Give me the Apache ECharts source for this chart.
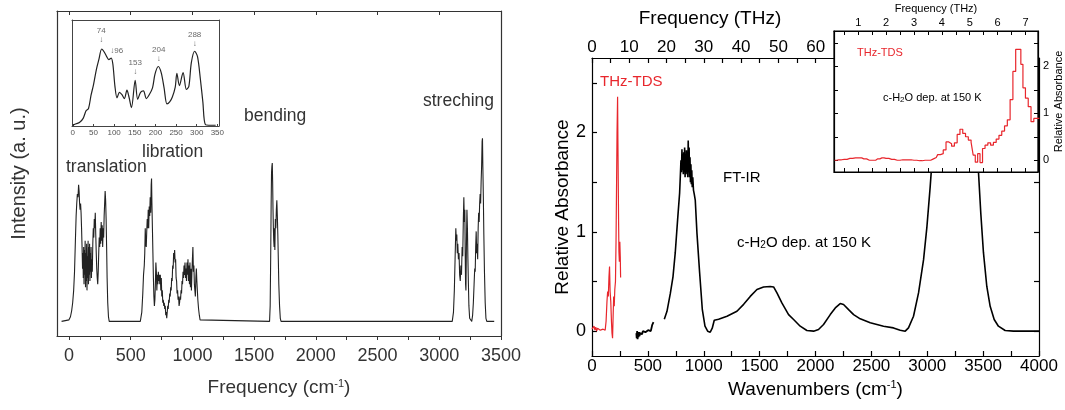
<!DOCTYPE html>
<html>
<head>
<meta charset="utf-8">
<script src="https://cdn.jsdelivr.net/npm/echarts@6/dist/echarts.min.js"></script>
<style>
  html, body { margin: 0; padding: 0; background: #fff; }
  #chart { width: 1065px; height: 410px; }
</style>
</head>
<body>
<div id="chart"></div>
<script>
// ---- left panel: intensity vs frequency (cm-1), arbitrary units
var translationBand = [[-60,0],[0,0.005],[12,0.015],[22,0.035],[30,0.06],[38,0.1],[45,0.16],[52,0.26],[58,0.34],[63,0.38],[68,0.41],[73,0.4],[78,0.44],[82,0.42],[86,0.38],[90,0.36],[94,0.38],[98,0.35],[102,0.3],[106,0.24],[110,0.17],[113,0.22],[116,0.14],[119,0.24],[122,0.12],[125,0.23],[128,0.15],[131,0.26],[134,0.11],[137,0.22],[140,0.13],[143,0.25],[146,0.1],[149,0.21],[152,0.14],[155,0.26],[158,0.12],[161,0.24],[164,0.15],[167,0.25],[170,0.13],[173,0.22],[176,0.16],[179,0.24],[182,0.14],[185,0.2],[189,0.16],[193,0.25],[197,0.3],[201,0.27],[205,0.33],[209,0.3],[213,0.35],[217,0.28],[221,0.22],[225,0.17],[229,0.14],[233,0.12],[237,0.16],[241,0.22],[245,0.27],[249,0.24],[253,0.3],[257,0.25],[261,0.32],[265,0.26],[269,0.31],[273,0.24],[277,0.3],[281,0.27],[285,0.34],[289,0.38],[293,0.42],[297,0.39],[301,0.33],[305,0.24],[309,0.14],[314,0.06],[320,0.015],[326,0]];
var librationBand = [[578,0],[590,0.03],[598,0.09],[604,0.15],[610,0.18],[614,0.22],[618,0.3],[622,0.25],[626,0.24],[630,0.29],[634,0.33],[638,0.3],[642,0.36],[646,0.3],[650,0.37],[654,0.34],[658,0.4],[662,0.35],[666,0.44],[669,0.46],[672,0.38],[676,0.3],[680,0.22],[684,0.14],[688,0.08],[692,0.05],[696,0.07],[700,0.12],[704,0.19],[708,0.16],[712,0.1],[716,0.15],[720,0.12],[724,0.16],[728,0.13],[732,0.15],[736,0.12],[740,0.15],[744,0.1],[748,0.14],[752,0.08],[756,0.1],[760,0.06],[764,0.07],[768,0.05],[772,0.06],[776,0.04],[780,0.05],[784,0.02],[788,0.03],[792,0.01],[796,0.03],[800,0.05],[804,0.04],[808,0.07],[812,0.06],[816,0.09],[820,0.08],[824,0.11],[828,0.1],[832,0.14],[836,0.13],[840,0.18],[844,0.17],[848,0.22],[852,0.2],[856,0.23],[860,0.19],[864,0.2],[868,0.14],[872,0.13],[876,0.09],[880,0.1],[884,0.07],[888,0.08],[892,0.05],[896,0.06],[900,0.08],[904,0.07],[908,0.1],[912,0.09],[916,0.13],[920,0.12],[924,0.16],[928,0.14],[932,0.18],[936,0.15],[940,0.19],[944,0.14],[948,0.17],[952,0.13],[956,0.19],[960,0.15],[964,0.2],[968,0.13],[972,0.18],[976,0.12],[980,0.19],[984,0.11],[988,0.17],[992,0.1],[996,0.16],[1000,0.2],[1004,0.24],[1008,0.16],[1012,0.18],[1016,0.12],[1020,0.1],[1024,0.08],[1028,0.14],[1032,0.17],[1036,0.13],[1040,0.1],[1044,0.07],[1050,0.04],[1056,0.02],[1062,0.005],[1074,0]];
var bendingBand = [[1625,0],[1630,0.05],[1634,0.2],[1638,0.38],[1641,0.48],[1644,0.5],[1647,0.51],[1650,0.45],[1653,0.36],[1656,0.3],[1659,0.26],[1662,0.24],[1665,0.3],[1668,0.23],[1672,0.33],[1676,0.3],[1680,0.36],[1684,0.39],[1688,0.34],[1692,0.28],[1696,0.2],[1700,0.12],[1706,0.05],[1712,0.01],[1718,0]];
var stretchingBand = [[3105,0],[3115,0.03],[3122,0.1],[3128,0.2],[3134,0.3],[3138,0.26],[3142,0.28],[3146,0.22],[3150,0.25],[3155,0.2],[3160,0.22],[3165,0.15],[3170,0.13],[3175,0.18],[3180,0.15],[3185,0.24],[3190,0.21],[3195,0.33],[3199,0.4],[3203,0.32],[3207,0.36],[3210,0.22],[3213,0.12],[3216,0.1],[3220,0.25],[3224,0.36],[3228,0.3],[3232,0.2],[3236,0.12],[3240,0.05],[3246,0.01],[3255,0.005],[3263,0],[3270,0.02],[3276,0.06],[3282,0.12],[3287,0.17],[3291,0.16],[3295,0.24],[3299,0.29],[3303,0.22],[3307,0.25],[3311,0.2],[3315,0.3],[3319,0.35],[3323,0.32],[3327,0.38],[3331,0.41],[3335,0.38],[3339,0.45],[3343,0.5],[3347,0.58],[3350,0.59],[3353,0.5],[3357,0.4],[3361,0.28],[3366,0.16],[3372,0.06],[3378,0.01],[3385,0],[3445,0]];
var leftTickLabels = [0, 500, 1000, 1500, 2000, 2500, 3000, 3500];
var leftTicks = [0, 250, 500, 750, 1000, 1250, 1500, 1750, 2000, 2250, 2500, 2750, 3000, 3250, 3500];

// left inset: 0-350 cm-1 zoom
var insetLeftCurve = [[0,0],[8,0.02],[16,0.035],[25,0.09],[32,0.19],[38,0.22],[44,0.39],[50,0.53],[57,0.73],[63,0.86],[70,1.0],[76,0.96],[82,0.9],[87,0.86],[93,0.88],[97,0.8],[102,0.51],[107,0.36],[113,0.43],[119,0.4],[125,0.35],[131,0.46],[136,0.37],[142,0.23],[151,0.59],[157,0.34],[164,0.43],[171,0.45],[178,0.35],[185,0.4],[193,0.49],[199,0.67],[207,0.77],[214,0.69],[221,0.49],[228,0.28],[235,0.31],[241,0.37],[248,0.5],[252,0.68],[258,0.52],[267,0.69],[275,0.47],[281,0.51],[287,0.82],[295,0.97],[302,0.9],[309,0.6],[315,0.3],[321,0.01],[334,0],[346,0]];
var peakNames = ['74', '96', '153', '204', '288'];
var peakX = [69, 92, 151, 208, 295];
var peakY = [1.05, 0.94, 0.63, 0.81, 1.0];
var insetLeftTicks = [0, 50, 100, 150, 200, 250, 300, 350];

// ---- right panel: relative absorbance vs wavenumber (cm-1)
var thzTds = [[0,0.02],[10,0.0],[18,0.05],[26,0.01],[34,0.04],[42,0.0],[50,0.03],[58,0.02],[66,0.05],[74,0.01],[82,0.03],[90,0.0],[100,0.02],[110,0.0],[118,0.01],[126,0.1],[134,0.3],[140,0.4],[146,0.35],[152,0.55],[157,0.65],[162,0.4],[168,0.3],[174,0.1],[179,-0.02],[184,-0.07],[189,0.15],[194,0.35],[199,0.25],[204,0.42],[210,0.5],[215,0.9],[220,1.5],[224,2.0],[229,2.36],[232,1.9],[235,1.5],[238,1.1],[241,0.8],[245,0.7],[249,0.9],[253,0.75],[256,0.54]];
var ftirShort = [[397,-0.02],[400,-0.07],[404,0.0],[408,-0.08],[412,-0.02],[416,-0.06],[420,-0.01],[425,-0.05],[430,-0.02],[436,-0.04],[442,0.0],[448,-0.03],[455,0.0],[462,-0.02],[470,0.01],[478,-0.01],[486,0.0],[494,-0.01],[502,0.01],[510,0.0],[518,0.02],[526,0.0],[532,0.03],[538,0.06],[544,0.04],[550,0.09]];
var ftirMain = [[647,0.12],[671,0.2],[701,0.38],[725,0.55],[745,0.79],[766,1.12],[784,1.39],[790,1.55],[796,1.72],[800,1.6],[805,1.83],[809,1.62],[813,1.78],[817,1.58],[821,1.8],[825,1.6],[829,1.85],[833,1.55],[837,1.78],[841,1.58],[845,1.82],[849,1.6],[853,1.8],[857,1.55],[861,1.92],[865,1.6],[869,1.85],[873,1.55],[877,1.75],[881,1.5],[885,1.68],[889,1.48],[893,1.62],[897,1.45],[902,1.55],[908,1.42],[915,1.38],[924,1.32],[939,0.99],[963,0.59],[987,0.22],[1011,0.05],[1035,0.0],[1058,-0.01],[1076,0.03],[1094,0.11],[1133,0.12],[1208,0.15],[1297,0.2],[1357,0.27],[1416,0.35],[1476,0.42],[1535,0.445],[1595,0.45],[1625,0.445],[1655,0.385],[1699,0.284],[1759,0.167],[1804,0.117],[1863,0.05],[1923,0.007],[1983,0.0],[2027,0.017],[2072,0.067],[2132,0.167],[2177,0.234],[2221,0.278],[2251,0.268],[2296,0.217],[2341,0.167],[2400,0.124],[2490,0.084],[2609,0.05],[2698,0.033],[2758,0.01],[2803,0.0],[2832,0.033],[2877,0.15],[2922,0.385],[2967,0.72],[2997,1.05],[3026,1.45],[3056,1.92],[3085,2.5],[3120,3.0],[3400,3.0],[3440,2.2],[3459,1.59],[3479,1.19],[3503,0.79],[3533,0.45],[3563,0.25],[3599,0.117],[3637,0.05],[3697,0.007],[3771,0.0],[4000,0.0]];
var wnTickLabels = [0, 500, 1000, 1500, 2000, 2500, 3000, 3500, 4000];
var wnTicks = [0, 250, 500, 750, 1000, 1250, 1500, 1750, 2000, 2250, 2500, 2750, 3000, 3250, 3500, 3750, 4000];
var thzTickLabels = [0, 10, 20, 30, 40, 50, 60];
var thzTicks = [0, 5, 10, 15, 20, 25, 30, 35, 40, 45, 50, 55, 60, 65];
var absTickLabels = [0, 1, 2];
var absTicks = [0, 0.5, 1, 1.5, 2, 2.5];

// right inset: THz-TDS, frequency in THz
var insetThz = [[0.15,0.0],[0.3,0.01],[0.5,0.02],[0.7,0.04],[0.9,0.05],[1.05,0.05],[1.2,0.03],[1.4,0.0],[1.55,0.0],[1.7,0.03],[1.85,0.05],[2.0,0.04],[2.2,0.02],[2.4,0.0],[2.6,0.01],[2.8,0.01],[3.0,0.0],[3.2,-0.01],[3.4,0.0],[3.6,0.0],[3.7,0.03],[3.8,0.06],[3.9,0.12],[4.0,0.14],[4.1,0.22],[4.2,0.39],[4.3,0.35],[4.4,0.3],[4.5,0.37],[4.6,0.55],[4.7,0.66],[4.8,0.57],[4.9,0.5],[5.0,0.43],[5.1,0.38],[5.15,0.11],[5.25,-0.04],[5.32,0.14],[5.42,-0.05],[5.5,0.25],[5.6,0.32],[5.7,0.37],[5.8,0.32],[5.9,0.38],[6.0,0.45],[6.1,0.53],[6.2,0.62],[6.3,0.73],[6.4,0.86],[6.5,1.29],[6.6,1.89],[6.7,2.36],[6.8,2.36],[6.87,2.04],[6.95,1.54],[7.05,1.32],[7.15,1.14],[7.25,0.82],[7.35,0.89],[7.5,0.89]];
var insetThzLabels = [1, 2, 3, 4, 5, 6, 7];
var insetThzTicks = [0.5, 1, 1.5, 2, 2.5, 3, 3.5, 4, 4.5, 5, 5.5, 6, 6.5, 7];

var FONT = 'Liberation Sans, Arial, sans-serif';
var RED = '#e8262c';
var GRAYTXT = '#333';

var chart = echarts.init(document.getElementById('chart'), null, { renderer: 'canvas' });

// plain numbers, no thousands separator
function num(v) { return String(v); }

function plainAxis(extra) {
  var base = {
    type: 'value',
    axisLine: { show: true, onZero: false, lineStyle: { color: '#000', width: 1.2 } },
    axisTick: { show: false },
    axisLabel: { show: false },
    splitLine: { show: false }
  };
  return Object.assign(base, extra);
}

var option = {
  animation: false,
  backgroundColor: '#fff',
  textStyle: { fontFamily: FONT },
  grid: [
    { left: 57, top: 11, width: 444, height: 325 },
    { left: 72, top: 20, width: 147, height: 106 },
    { left: 592, top: 58, width: 447, height: 298 },
    { left: 834, top: 31, width: 205, height: 141, show: true, backgroundColor: '#fff', borderColor: '#000', borderWidth: 1.2, z: 10 }
  ],
  xAxis: [
    plainAxis({ gridIndex: 0, position: 'bottom', min: -97, max: 3500,
      axisLine: { show: true, onZero: false, lineStyle: { color: '#333', width: 1.2 } },
      axisTick: { show: true, inside: false, length: 4, customValues: leftTicks, lineStyle: { color: '#333' } },
      axisLabel: { show: true, customValues: leftTickLabels, formatter: num, fontSize: 18, color: GRAYTXT, margin: 11, fontFamily: FONT },
      name: 'Frequency (cm{sup|-1})', nameLocation: 'middle', nameGap: 42,
      nameTextStyle: { fontSize: 19, color: GRAYTXT, fontFamily: FONT, rich: { sup: { fontSize: 11, verticalAlign: 'top', color: GRAYTXT } } }
    }),
    plainAxis({ gridIndex: 0, position: 'top', min: -97, max: 3500,
      axisLine: { show: true, onZero: false, lineStyle: { color: '#333', width: 1.2 } },
      axisTick: { show: true, inside: true, length: 4, customValues: leftTickLabels, lineStyle: { color: '#333' } }
    }),
    plainAxis({ gridIndex: 1, position: 'bottom', min: -2, max: 354,
      axisLine: { show: true, onZero: false, lineStyle: { color: '#444', width: 1 } },
      axisTick: { show: true, inside: true, length: 2, customValues: insetLeftTicks, lineStyle: { color: '#444' } },
      axisLabel: { show: true, customValues: insetLeftTicks, formatter: num, fontSize: 8, color: '#555', margin: 3, fontFamily: FONT }
    }),
    plainAxis({ gridIndex: 1, position: 'top', min: -2, max: 354,
      axisLine: { show: true, onZero: false, lineStyle: { color: '#444', width: 1 } } }),
    plainAxis({ gridIndex: 2, position: 'bottom', min: 0, max: 4000,
      axisTick: { show: true, inside: true, length: 5, customValues: wnTicks, lineStyle: { color: '#000', width: 1.2 } },
      axisLabel: { show: true, customValues: wnTickLabels, formatter: num, fontSize: 17, color: '#000', margin: 2, fontFamily: FONT },
      name: 'Wavenumbers (cm{sup|-1})', nameLocation: 'middle', nameGap: 23,
      nameTextStyle: { fontSize: 19, color: '#000', fontFamily: FONT, rich: { sup: { fontSize: 11, verticalAlign: 'top', color: '#000' } } }
    }),
    plainAxis({ gridIndex: 2, position: 'top', min: 0, max: 4000 * 0.0299792458,
      axisTick: { show: true, inside: true, length: 5, customValues: thzTicks, lineStyle: { color: '#000', width: 1.2 } },
      axisLabel: { show: true, customValues: thzTickLabels, formatter: num, fontSize: 17, color: '#000', margin: 2, fontFamily: FONT }
    }),
    plainAxis({ gridIndex: 3, position: 'bottom', min: 0.13, max: 7.45, z: 11,
      axisTick: { show: true, inside: true, length: 4, customValues: insetThzTicks, lineStyle: { color: '#000' } } }),
    plainAxis({ gridIndex: 3, position: 'top', min: 0.13, max: 7.45, z: 11,
      axisTick: { show: true, inside: true, length: 4, customValues: insetThzTicks, lineStyle: { color: '#000' } },
      axisLabel: { show: true, customValues: insetThzLabels, formatter: num, fontSize: 11, color: '#000', margin: 3, fontFamily: FONT },
      name: 'Frequency (THz)', nameLocation: 'middle', nameGap: 17,
      nameTextStyle: { fontSize: 11, color: '#000', fontFamily: FONT }
    })
  ],
  yAxis: [
    plainAxis({ gridIndex: 0, position: 'left', min: -0.047, max: 1.0,
      axisLine: { show: true, onZero: false, lineStyle: { color: '#333', width: 1.2 } },
      name: 'Intensity (a. u.)', nameLocation: 'middle', nameGap: 28, nameRotate: 90,
      nameTextStyle: { fontSize: 20, color: GRAYTXT, fontFamily: FONT }
    }),
    plainAxis({ gridIndex: 0, position: 'right', min: -0.047, max: 1.0,
      axisLine: { show: true, onZero: false, lineStyle: { color: '#333', width: 1.2 } } }),
    plainAxis({ gridIndex: 1, position: 'left', min: -0.01, max: 1.38,
      axisLine: { show: true, onZero: false, lineStyle: { color: '#444', width: 1 } } }),
    plainAxis({ gridIndex: 1, position: 'right', min: -0.01, max: 1.38,
      axisLine: { show: true, onZero: false, lineStyle: { color: '#444', width: 1 } } }),
    plainAxis({ gridIndex: 2, position: 'left', min: -0.25, max: 2.75,
      axisTick: { show: true, inside: true, length: 5, customValues: absTicks, lineStyle: { color: '#000', width: 1.2 } },
      axisLabel: { show: true, customValues: absTickLabels, formatter: num, fontSize: 18, color: '#000', margin: 6, fontFamily: FONT },
      name: 'Relative Absorbance', nameLocation: 'middle', nameGap: 18, nameRotate: 90,
      nameTextStyle: { fontSize: 19, color: '#000', fontFamily: FONT }
    }),
    plainAxis({ gridIndex: 2, position: 'right', min: -0.25, max: 2.75,
      axisTick: { show: true, inside: true, length: 5, customValues: absTicks, lineStyle: { color: '#000', width: 1.2 } } }),
    plainAxis({ gridIndex: 3, position: 'left', min: -0.25, max: 2.75, z: 11,
      axisTick: { show: true, inside: true, length: 4, customValues: absTicks, lineStyle: { color: '#000' } } }),
    plainAxis({ gridIndex: 3, position: 'right', min: -0.25, max: 2.75, z: 11,
      axisTick: { show: true, inside: true, length: 4, customValues: absTicks, lineStyle: { color: '#000' } },
      axisLabel: { show: true, customValues: absTickLabels, formatter: num, fontSize: 11, color: '#000', margin: 5, fontFamily: FONT },
      name: 'Relative Absorbance', nameLocation: 'middle', nameGap: 14, nameRotate: 90,
      nameTextStyle: { fontSize: 11, color: '#000', fontFamily: FONT }
    })
  ],
  series: [
    {
      type: 'line', xAxisIndex: 0, yAxisIndex: 0, showSymbol: false,
      data: [].concat(translationBand, librationBand, bendingBand, stretchingBand),
      lineStyle: { color: '#222', width: 1.1 }
    },
    {
      type: 'line', xAxisIndex: 2, yAxisIndex: 2, showSymbol: false, smooth: 0.3,
      data: insetLeftCurve,
      lineStyle: { color: '#222', width: 1.2 }
    },
    {
      type: 'scatter', xAxisIndex: 2, yAxisIndex: 2, symbolSize: 1,
      itemStyle: { color: 'rgba(0,0,0,0)' },
      data: peakNames.map(function (n, i) {
        var item = { name: n, value: [peakX[i], peakY[i]] };
        if (n === '96') item.label = { formatter: '↓96', offset: [6, 2] };
        return item;
      }),
      label: {
        show: true, position: 'top', distance: 0,
        formatter: function (p) { return p.name + '\n↓'; },
        fontSize: 8, lineHeight: 9, color: '#444', fontFamily: FONT
      }
    },
    {
      type: 'line', xAxisIndex: 4, yAxisIndex: 4, showSymbol: false,
      data: thzTds, lineStyle: { color: RED, width: 1.2 }
    },
    {
      type: 'line', xAxisIndex: 4, yAxisIndex: 4, showSymbol: false,
      data: ftirShort, lineStyle: { color: '#000', width: 1.8 }
    },
    {
      type: 'line', xAxisIndex: 4, yAxisIndex: 4, showSymbol: false,
      data: ftirMain, lineStyle: { color: '#000', width: 1.6 }
    },
    {
      type: 'line', xAxisIndex: 6, yAxisIndex: 6, showSymbol: false, step: 'middle', z: 12,
      data: insetThz, lineStyle: { color: RED, width: 1.2 }
    }
  ],
  graphic: [
    { type: 'text', x: 66, y: 167, style: { text: 'translation', fontSize: 17.5, fontFamily: FONT, fill: GRAYTXT, verticalAlign: 'middle' } },
    { type: 'text', x: 142, y: 152, style: { text: 'libration', fontSize: 17.5, fontFamily: FONT, fill: GRAYTXT, verticalAlign: 'middle' } },
    { type: 'text', x: 244, y: 116, style: { text: 'bending', fontSize: 17.5, fontFamily: FONT, fill: GRAYTXT, verticalAlign: 'middle' } },
    { type: 'text', x: 423, y: 101, style: { text: 'streching', fontSize: 17.5, fontFamily: FONT, fill: GRAYTXT, verticalAlign: 'middle' } },
    { type: 'text', x: 710, y: 19, style: { text: 'Frequency (THz)', fontSize: 19, fontFamily: FONT, fill: '#000', align: 'center', verticalAlign: 'middle' } },
    { type: 'text', x: 600, y: 82, style: { text: 'THz-TDS', fontSize: 15, fontFamily: FONT, fill: RED, verticalAlign: 'middle' } },
    { type: 'text', x: 723, y: 178, style: { text: 'FT-IR', fontSize: 15, fontFamily: FONT, fill: '#000', verticalAlign: 'middle' } },
    { type: 'text', x: 737, y: 243, style: { text: 'c-H{sub|2}O dep. at 150 K', fontSize: 15, fontFamily: FONT, fill: '#000', verticalAlign: 'middle',
        rich: { sub: { fontSize: 10, verticalAlign: 'bottom', fontFamily: FONT, fill: '#000' } } } },
    { type: 'text', z: 100, x: 857, y: 53, style: { text: 'THz-TDS', fontSize: 11, fontFamily: FONT, fill: RED, verticalAlign: 'middle' } },
    { type: 'text', z: 100, x: 883, y: 98, style: { text: 'c-H{sub|2}O dep. at 150 K', fontSize: 11, fontFamily: FONT, fill: '#000', verticalAlign: 'middle',
        rich: { sub: { fontSize: 8, verticalAlign: 'bottom', fontFamily: FONT, fill: '#000' } } } }
  ]
};

chart.setOption(option);
</script>
</body>
</html>
